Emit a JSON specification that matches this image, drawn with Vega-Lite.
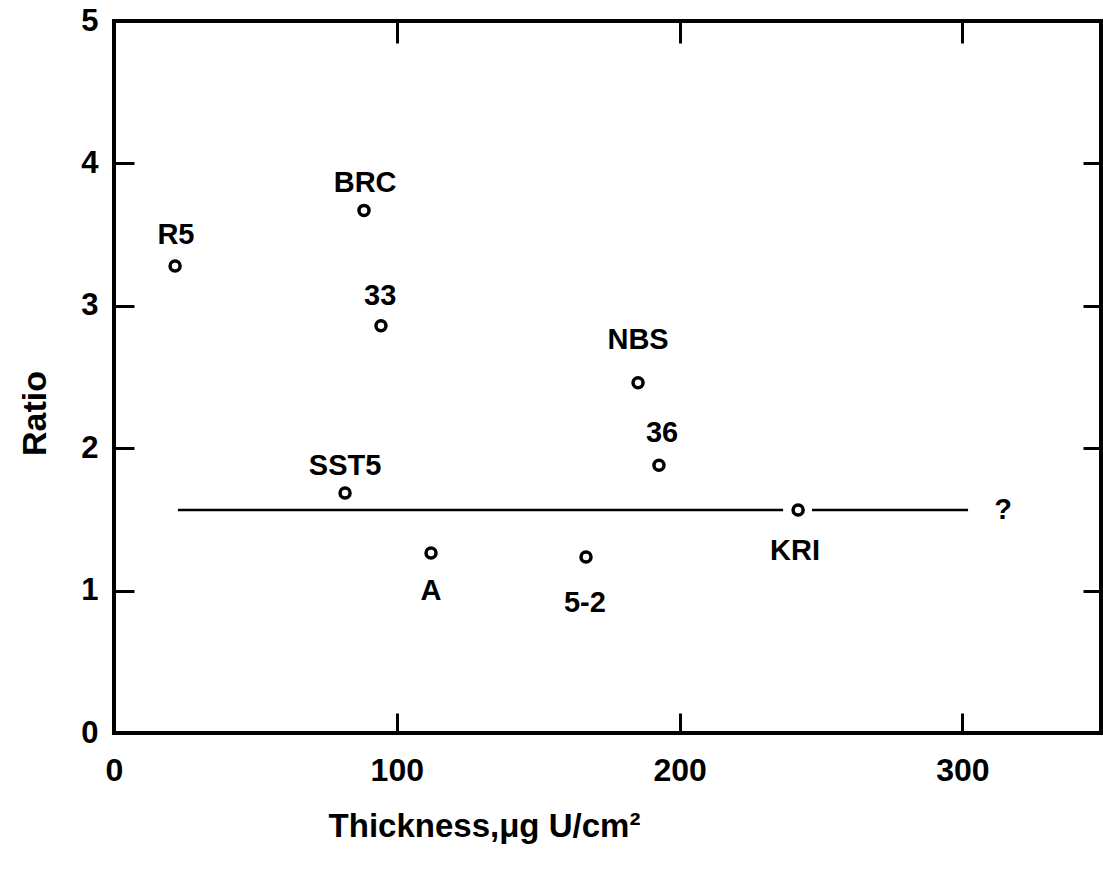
{
  "$schema": "https://vega.github.io/schema/vega-lite/v6.json",
  "width": 987,
  "height": 712,
  "autosize": {"type": "none"},
  "padding": {"left": 114, "top": 21, "right": 2, "bottom": 139},
  "background": "white",
  "config": {
    "view": {"stroke": "black", "strokeWidth": 4},
    "font": "Liberation Sans",
    "axis": {"grid": false, "domain": false, "tickColor": "black", "tickWidth": 3, "labelColor": "black", "titleColor": "black", "labelFont": "Liberation Sans", "titleFont": "Liberation Sans", "labelFontWeight": "bold", "titleFontWeight": "bold", "labelFlush": false, "labelOverlap": false}
  },
  "datasets": {
    "pts": [
      {"name": "R5", "thickness": 21.6, "ratio": 3.28, "lx": 21.9, "ly": 3.5},
      {"name": "BRC", "thickness": 88.4, "ratio": 3.67, "lx": 88.8, "ly": 3.86},
      {"name": "33", "thickness": 94.4, "ratio": 2.86, "lx": 94.1, "ly": 3.07},
      {"name": "NBS", "thickness": 185.3, "ratio": 2.46, "lx": 185.3, "ly": 2.76},
      {"name": "36", "thickness": 192.7, "ratio": 1.88, "lx": 193.8, "ly": 2.11},
      {"name": "SST5", "thickness": 81.7, "ratio": 1.685, "lx": 81.7, "ly": 1.875},
      {"name": "KRI", "thickness": 241.9, "ratio": 1.566, "lx": 240.8, "ly": 1.28},
      {"name": "A", "thickness": 112.1, "ratio": 1.264, "lx": 112.1, "ly": 1.0},
      {"name": "5-2", "thickness": 166.9, "ratio": 1.236, "lx": 166.5, "ly": 0.91}
    ],
    "fit": [
      {"seg": "a", "thickness": 22.6, "ratio": 1.566},
      {"seg": "a", "thickness": 236.6, "ratio": 1.566},
      {"seg": "b", "thickness": 246.8, "ratio": 1.566},
      {"seg": "b", "thickness": 302, "ratio": 1.566}
    ],
    "q": [{"label": "?", "thickness": 314.4, "ratio": 1.566}]
  },
  "layer": [
    {
      "data": {"name": "fit"},
      "mark": {"type": "line", "color": "black", "strokeWidth": 2.5},
      "encoding": {
        "x": {"field": "thickness", "type": "quantitative", "scale": {"domain": [0, 349], "nice": false},
          "axis": {"orient": "bottom", "values": [0, 100, 200, 300], "tickSize": -20, "labelPadding": 42, "labelFontSize": 32, "title": "Thickness,μg U/cm²", "titleFontSize": 33, "titleX": 370, "titleY": 103, "titleBaseline": "alphabetic", "titleAlign": "center", "titleAnchor": null}},
        "y": {"field": "ratio", "type": "quantitative", "scale": {"domain": [0, 5], "nice": false},
          "axis": {"orient": "left", "values": [0, 1, 2, 3, 4, 5], "tickSize": -20, "labelPadding": 36, "labelFontSize": 31, "labelBaseline": "middle", "title": "Ratio", "titleFontSize": 34, "titleAngle": -90, "titleX": -69, "titleY": 392, "titleBaseline": "alphabetic", "titleAlign": "center", "titleAnchor": null}},
        "detail": {"field": "seg"}
      }
    },
    {
      "data": {"name": "pts"},
      "mark": {"type": "point", "shape": "circle", "filled": false, "color": "black", "strokeWidth": 3.5, "size": 100, "opacity": 1},
      "encoding": {
        "x": {"field": "thickness", "type": "quantitative",
          "axis": {"orient": "top", "values": [100, 200, 300], "tickSize": -22, "labels": false, "title": null}},
        "y": {"field": "ratio", "type": "quantitative",
          "axis": {"orient": "right", "values": [1, 2, 3, 4], "tickSize": -18, "labels": false, "title": null}}
      }
    },
    {
      "data": {"name": "pts"},
      "mark": {"type": "text", "font": "Liberation Sans", "fontWeight": "bold", "fontSize": 29, "color": "black", "align": "center", "baseline": "middle"},
      "encoding": {
        "x": {"field": "lx", "type": "quantitative", "axis": null},
        "y": {"field": "ly", "type": "quantitative", "axis": null},
        "text": {"field": "name"}
      }
    },
    {
      "data": {"name": "q"},
      "mark": {"type": "text", "font": "Liberation Sans", "fontWeight": "bold", "fontSize": 29, "color": "black", "align": "center", "baseline": "middle"},
      "encoding": {
        "x": {"field": "thickness", "type": "quantitative", "axis": null},
        "y": {"field": "ratio", "type": "quantitative", "axis": null},
        "text": {"field": "label"}
      }
    }
  ],
  "resolve": {"axis": {"x": "independent", "y": "independent"}}
}
